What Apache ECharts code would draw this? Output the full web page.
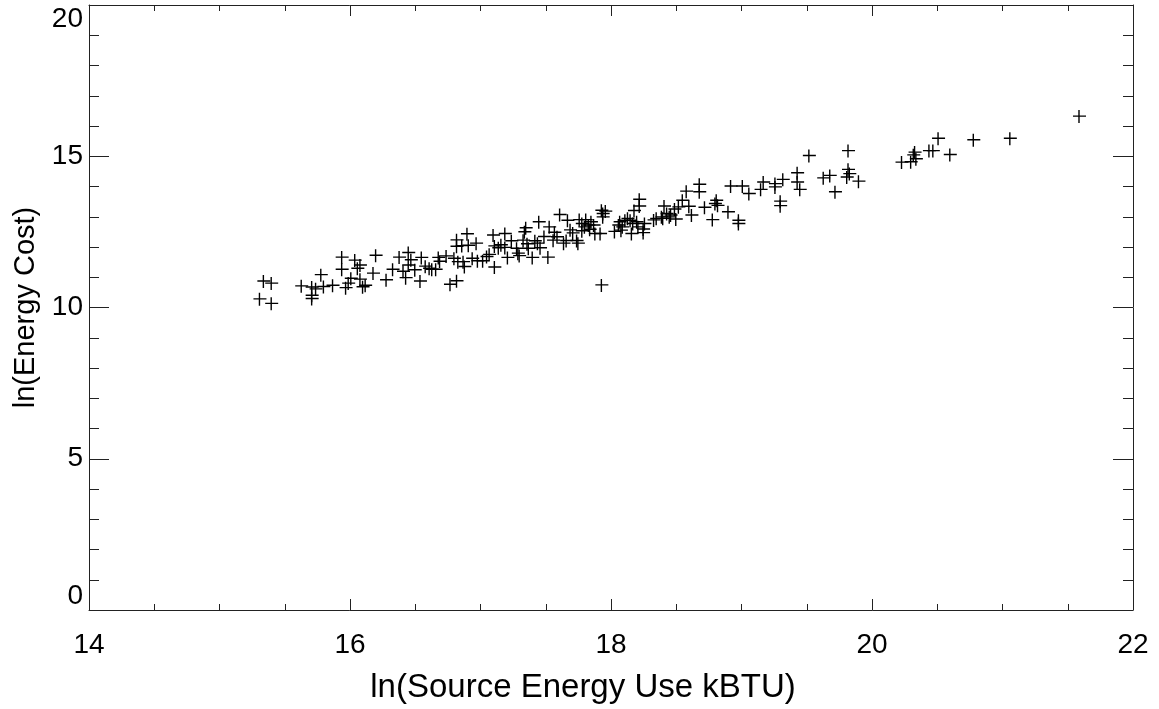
<!DOCTYPE html>
<html>
<head>
<meta charset="utf-8">
<script src="https://cdn.jsdelivr.net/npm/echarts@6/dist/echarts.min.js"></script>
<style>
  html, body { margin: 0; padding: 0; background: #fff; }
  #root { width: 1159px; height: 709px; }
</style>
</head>
<body>
<div id="root"></div>
<script>
// ln(Source Energy Use kBTU), one entry per building
const sourceEnergy = [
  15.31,15.34,15.40,15.40,15.63,15.71,15.71,15.71,15.74,15.78,
  15.80,15.87,15.94,15.94,15.97,15.99,16.01,16.04,16.06,16.08,
  16.08,16.10,16.12,16.18,16.20,16.28,16.33,16.38,16.41,16.43,
  16.45,16.45,16.47,16.50,16.54,16.55,16.58,16.61,16.63,16.66,
  16.68,16.69,16.74,16.77,16.82,16.80,16.82,16.82,16.83,16.86,
  16.87,16.88,16.90,16.91,16.94,16.97,16.98,17.02,17.05,17.07,
  17.10,17.11,17.11,17.14,17.16,17.19,17.19,17.21,17.24,17.28,
  17.29,17.30,17.33,17.34,17.35,17.36,17.37,17.40,17.42,17.44,
  17.45,17.46,17.49,17.52,17.53,17.56,17.57,17.59,17.61,17.64,
  17.66,17.67,17.69,17.71,17.74,17.75,17.76,17.78,17.78,17.80,
  17.81,17.83,17.84,17.85,17.87,17.88,17.92,17.93,17.94,17.94,
  17.96,17.93,18.03,18.06,18.07,18.08,18.09,18.11,18.13,18.15,
  18.16,18.17,18.18,18.20,18.21,18.22,18.22,18.25,18.25,18.26,
  18.33,18.35,18.39,18.40,18.41,18.43,18.45,18.46,18.49,18.50,
  18.52,18.55,18.58,18.60,18.62,18.68,18.68,18.72,18.78,18.80,
  18.81,18.82,18.90,18.92,18.98,18.98,19.01,19.06,19.15,19.17,
  19.26,19.26,19.30,19.30,19.32,19.43,19.43,19.45,19.52,19.63,
  19.68,19.72,19.81,19.82,19.82,19.83,19.90,20.23,20.30,20.32,
  20.33,20.34,20.44,20.47,20.51,20.60,20.78,21.06,21.59
];

// ln(Energy Cost), same order as sourceEnergy
const energyCost = [
  10.27,10.86,10.79,10.12,10.70,10.66,10.39,10.28,10.60,11.07,
  10.68,10.72,11.65,11.25,10.64,10.79,10.95,11.55,11.28,11.39,
  10.92,10.67,10.72,11.12,11.71,10.90,11.25,11.65,11.18,10.97,
  11.80,11.39,11.56,11.23,10.86,11.64,11.35,11.28,11.25,11.25,
  11.64,11.51,11.69,10.75,10.87,11.61,12.22,12.01,11.50,12.03,
  11.50,11.34,12.42,12.04,11.61,12.11,11.53,11.53,11.67,11.74,
  12.38,11.32,12.02,11.96,12.06,12.43,11.97,11.64,12.19,11.94,
  11.78,11.70,12.21,12.49,12.62,12.09,11.94,11.64,12.19,12.11,
  12.82,11.96,12.33,11.65,12.65,12.21,12.47,12.32,13.06,12.11,
  12.20,12.87,12.55,12.45,12.20,12.11,12.89,12.52,12.76,12.65,
  12.89,12.71,12.57,12.82,12.71,12.43,12.43,13.20,13.09,12.98,
  13.17,10.73,12.50,12.71,12.82,12.54,12.65,12.87,12.93,12.87,
  12.43,12.76,13.19,12.82,12.65,13.56,13.34,12.58,12.46,12.76,
  12.88,12.93,12.98,12.93,13.34,13.09,12.98,13.04,13.24,12.91,
  13.31,13.53,13.83,13.33,13.04,14.06,13.81,13.30,12.89,13.42,
  13.53,13.36,13.15,14.00,12.87,12.76,14.00,13.75,13.89,14.13,
  14.08,13.97,13.50,13.35,14.22,14.44,14.13,13.89,15.01,14.27,
  14.35,13.81,14.30,15.17,14.55,14.41,14.16,14.79,14.80,15.03,
  15.12,14.90,15.17,15.17,15.58,15.04,15.53,15.58,16.31
];

const xRange = [14, 22];
const yRange = [0, 20];

const FONT = "'Liberation Sans', Arial, sans-serif";
const INK = '#222';
const plus = 'path://M0,5.3H13V6.7H0Z M5.3,0H6.7V13H5.3Z';

const points = sourceEnergy.map((x, i) => [x, energyCost[i]]);

const chart = echarts.init(document.getElementById('root'), null, { renderer: 'canvas' });

function xAx(pos, withLabels) {
  return {
    type: 'value', position: pos, min: xRange[0], max: xRange[1], interval: 2,
    axisLine: { show: true, onZero: false, lineStyle: { color: INK, width: 1 } },
    axisTick: { show: true, inside: true, length: 11, lineStyle: { color: INK } },
    minorTick: { show: true, splitNumber: 4, length: 6, lineStyle: { color: INK } },
    splitLine: { show: false },
    axisLabel: { show: withLabels, color: '#000', fontSize: 28, fontFamily: FONT, margin: 21 },
    name: withLabels ? 'ln(Source Energy Use kBTU)' : '',
    nameLocation: 'middle', nameGap: 61,
    nameTextStyle: { color: '#000', fontSize: 33, fontFamily: FONT, padding: [0, 56, 0, 0] }
  };
}

function yAx(pos, withLabels) {
  return {
    type: 'value', position: pos, min: yRange[0], max: yRange[1], interval: 5,
    axisLine: { show: true, onZero: false, lineStyle: { color: INK, width: 1 } },
    axisTick: { show: true, inside: true, length: 20, lineStyle: { color: INK } },
    minorTick: { show: true, splitNumber: 5, length: 10, lineStyle: { color: INK } },
    splitLine: { show: false },
    axisLabel: {
      show: withLabels, color: '#000', fontSize: 28, fontFamily: FONT, margin: 6,
      verticalAlignMinLabel: 'bottom', verticalAlignMaxLabel: 'top'
    },
    name: withLabels ? 'ln(Energy Cost)' : '',
    nameLocation: 'middle', nameGap: 49,
    nameTextStyle: { color: '#000', fontSize: 29, fontFamily: FONT }
  };
}

chart.setOption({
  animation: false,
  backgroundColor: '#fff',
  grid: { left: 89, right: 26, top: 5, bottom: 96, containLabel: false },
  xAxis: [xAx('bottom', true), xAx('top', false)],
  yAxis: [yAx('left', true), yAx('right', false)],
  series: [{
    type: 'scatter',
    xAxisIndex: 0, yAxisIndex: 0,
    symbol: plus,
    symbolSize: [13, 13],
    itemStyle: { color: '#000', opacity: 1 },
    emphasis: { disabled: true },
    data: points
  }]
});
</script>
</body>
</html>
